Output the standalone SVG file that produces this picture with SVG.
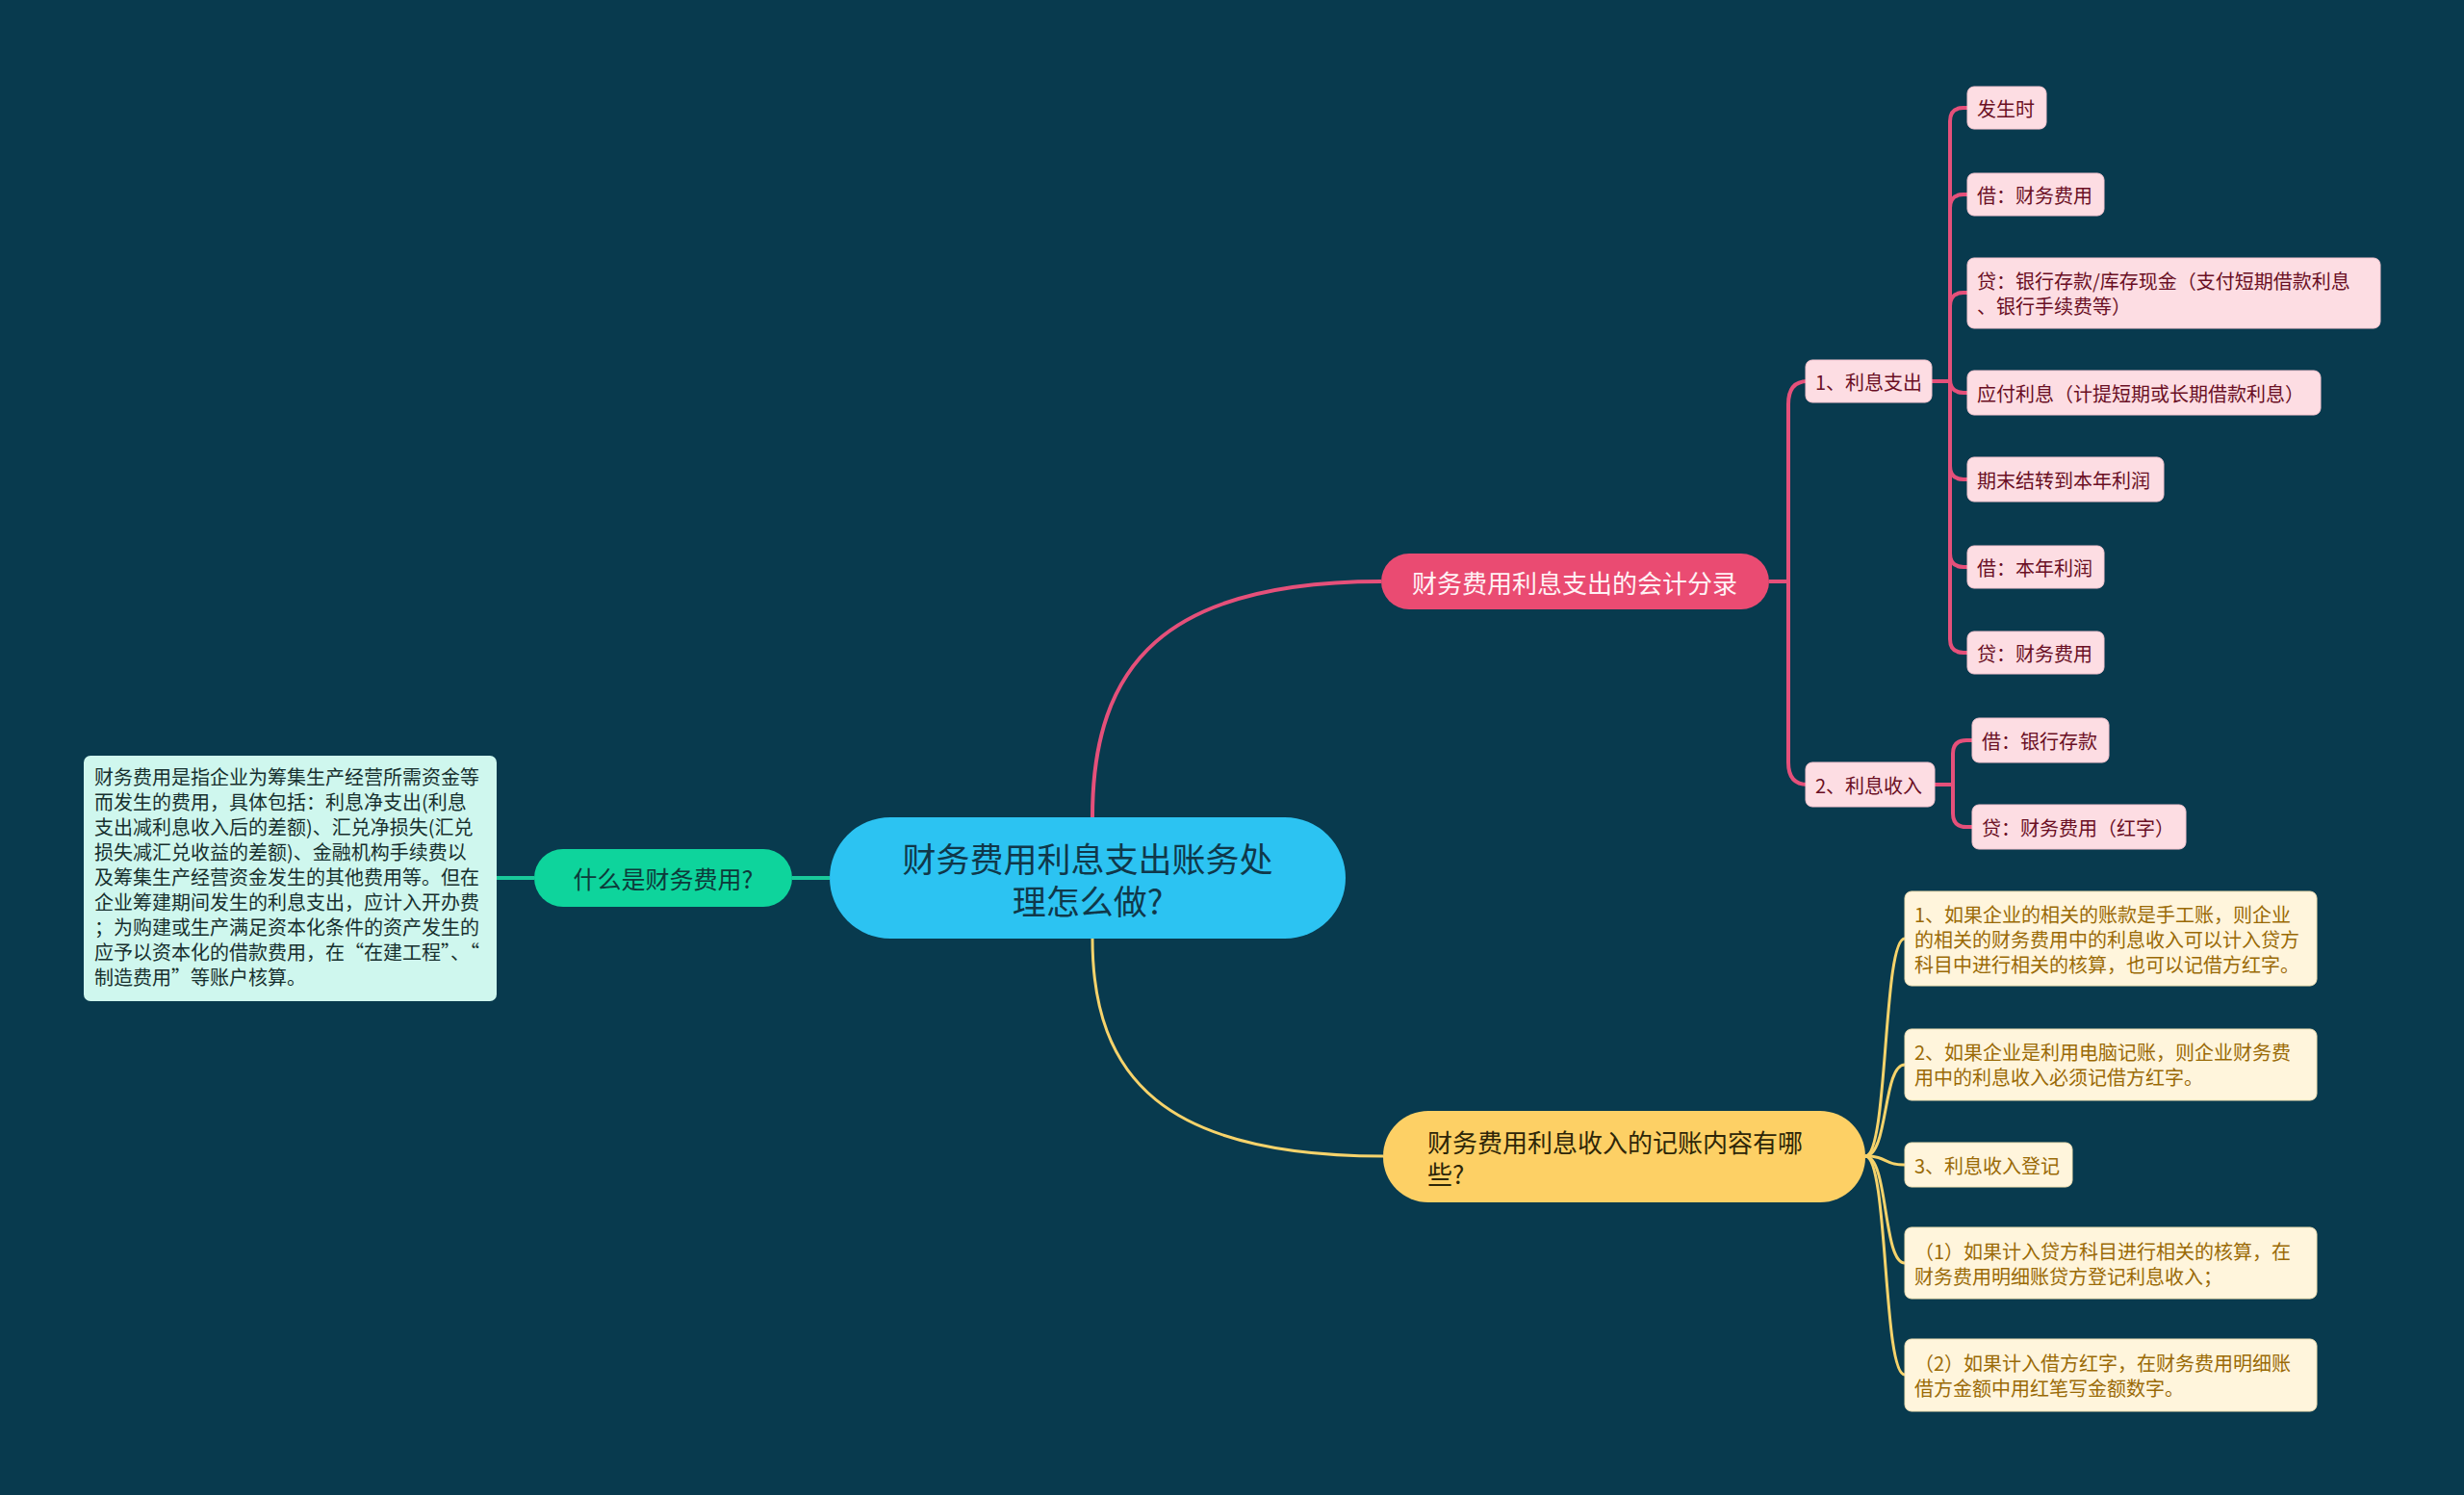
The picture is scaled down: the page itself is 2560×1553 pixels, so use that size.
<svg xmlns="http://www.w3.org/2000/svg" width="2560" height="1553" viewBox="0 0 2560 1553">
<style>
text{font-family:"Noto Sans CJK SC","Noto Sans",sans-serif;dominant-baseline:central}
.pk{fill:#fddde3;stroke:#f7c6d1;stroke-width:1}
.pkt{fill:#6a0f24;font-size:20px}
.yl{fill:#fff5dc;stroke:#f3e2b4;stroke-width:1}
.ylt{fill:#9a6a06;font-size:20px}
.cp{fill:none;stroke:#e5507a;stroke-width:4}
.cy{fill:none;stroke:#f6d36b;stroke-width:3}
.cg{fill:none;stroke:#19c99a;stroke-width:4}
</style>
<rect width="2560" height="1553" fill="#083a4e"/>
<g id="connectors">
<path class="cg" d="M823,912 H862"/>
<path class="cg" d="M516,912 H555"/>
<path class="cp" d="M1135,849 C1135,690 1210,604 1435,604"/>
<path class="cy" d="M1135,975 C1135,1120 1210,1201 1437,1201"/>
<path class="cp" d="M1838,604 H1858 V420 Q1858,396 1878,396"/>
<path class="cp" d="M1858,604 V792 Q1858,815 1878,815"/>
<path class="cp" d="M2007,396 H2026 V126 Q2026,112 2040,112 H2044"/>
<path class="cp" d="M2026,396 V216 Q2026,202 2040,202 H2044"/>
<path class="cp" d="M2026,396 V318 Q2026,304 2040,304 H2044"/>
<path class="cp" d="M2026,396 V394 Q2026,408 2040,408 H2044"/>
<path class="cp" d="M2026,396 V484 Q2026,498 2040,498 H2044"/>
<path class="cp" d="M2026,396 V575 Q2026,589 2040,589 H2044"/>
<path class="cp" d="M2026,396 V664 Q2026,678 2040,678 H2044"/>
<path class="cp" d="M2010,815 H2029 V783 Q2029,769 2043,769 H2049"/>
<path class="cp" d="M2029,815 V845 Q2029,859 2043,859 H2049"/>
<path class="cy" d="M1938,1201 C1962,1201 1956,975 1979,975"/>
<path class="cy" d="M1938,1201 C1962,1201 1956,1106 1979,1106"/>
<path class="cy" d="M1938,1201 C1962,1201 1956,1210 1979,1210"/>
<path class="cy" d="M1938,1201 C1962,1201 1956,1312 1979,1312"/>
<path class="cy" d="M1938,1201 C1962,1201 1956,1428 1979,1428"/>
</g>
<g id="root">
<rect x="862" y="849" width="536" height="126" rx="63" fill="#2cc3f2"/>
<text x="1130" y="890" font-size="35" fill="#10384a" text-anchor="middle">财务费用利息支出账务处</text>
<text x="1130" y="934" font-size="35" fill="#10384a" text-anchor="middle">理怎么做?</text>
</g>
<g id="n-what">
<rect x="555" y="882" width="268" height="60" rx="30" fill="#0ed49c"/>
<text x="689" y="912" font-size="25" fill="#0d3a3a" text-anchor="middle">什么是财务费用?</text>
</g>
<g id="n-what-desc">
<rect x="87" y="785" width="429" height="255" rx="7" fill="#cff7ee"/>
<g font-size="20" fill="#17302e">
<text x="98" y="806" font-size="20">财务费用是指企业为筹集生产经营所需资金等</text>
<text x="98" y="832" font-size="20">而发生的费用，具体包括：利息净支出(利息</text>
<text x="98" y="858" font-size="20">支出减利息收入后的差额)、汇兑净损失(汇兑</text>
<text x="98" y="884" font-size="20">损失减汇兑收益的差额)、金融机构手续费以</text>
<text x="98" y="910" font-size="20">及筹集生产经营资金发生的其他费用等。但在</text>
<text x="98" y="936" font-size="20">企业筹建期间发生的利息支出，应计入开办费</text>
<text x="98" y="962" font-size="20">；为购建或生产满足资本化条件的资产发生的</text>
<text x="98" y="988" font-size="20">应予以资本化的借款费用，在“在建工程”、“</text>
<text x="98" y="1014" font-size="20">制造费用”等账户核算。</text>
</g>
</g>
<g id="n-entry">
<rect x="1435" y="575" width="403" height="58" rx="29" fill="#ea4b72"/>
<text x="1636" y="604" font-size="26" fill="#fff2f5" text-anchor="middle">财务费用利息支出的会计分录</text>
</g>
<g id="n-out">
<rect class="pk" x="1876" y="374" width="131" height="44" rx="7"/>
<text class="pkt" x="1886" y="396">1、利息支出</text>
</g>
<g id="n-in">
<rect class="pk" x="1876" y="792" width="134" height="46" rx="7"/>
<text class="pkt" x="1886" y="815">2、利息收入</text>
</g>
<g id="n-o1"><rect class="pk" x="2044" y="90" width="82" height="44" rx="7"/><text class="pkt" x="2054" y="112">发生时</text></g>
<g id="n-o2"><rect class="pk" x="2044" y="180" width="142" height="44" rx="7"/><text class="pkt" x="2054" y="202">借：财务费用</text></g>
<g id="n-o3"><rect class="pk" x="2044" y="268" width="429" height="73" rx="7"/><text class="pkt" x="2054" y="291">贷：银行存款/库存现金（支付短期借款利息</text><text class="pkt" x="2054" y="317">、银行手续费等）</text></g>
<g id="n-o4"><rect class="pk" x="2044" y="385" width="367" height="46" rx="7"/><text class="pkt" x="2054" y="408">应付利息（计提短期或长期借款利息）</text></g>
<g id="n-o5"><rect class="pk" x="2044" y="475" width="204" height="46" rx="7"/><text class="pkt" x="2054" y="498">期末结转到本年利润</text></g>
<g id="n-o6"><rect class="pk" x="2044" y="567" width="142" height="44" rx="7"/><text class="pkt" x="2054" y="589">借：本年利润</text></g>
<g id="n-o7"><rect class="pk" x="2044" y="656" width="142" height="44" rx="7"/><text class="pkt" x="2054" y="678">贷：财务费用</text></g>
<g id="n-i1"><rect class="pk" x="2049" y="746" width="142" height="46" rx="7"/><text class="pkt" x="2059" y="769">借：银行存款</text></g>
<g id="n-i2"><rect class="pk" x="2049" y="836" width="222" height="46" rx="7"/><text class="pkt" x="2059" y="859">贷：财务费用（红字）</text></g>
<g id="n-income">
<rect x="1437" y="1154" width="501" height="95" rx="47" fill="#fdd065"/>
<text x="1483" y="1185" font-size="26" fill="#2e2608">财务费用利息收入的记账内容有哪</text>
<text x="1483" y="1218" font-size="26" fill="#2e2608">些?</text>
</g>
<g id="n-y1"><rect class="yl" x="1979" y="926" width="428" height="98" rx="7"/>
<text class="ylt" x="1989" y="949">1、如果企业的相关的账款是手工账，则企业</text>
<text class="ylt" x="1989" y="975">的相关的财务费用中的利息收入可以计入贷方</text>
<text class="ylt" x="1989" y="1001">科目中进行相关的核算，也可以记借方红字。</text></g>
<g id="n-y2"><rect class="yl" x="1979" y="1069" width="428" height="74" rx="7"/>
<text class="ylt" x="1989" y="1092">2、如果企业是利用电脑记账，则企业财务费</text>
<text class="ylt" x="1989" y="1118">用中的利息收入必须记借方红字。</text></g>
<g id="n-y3"><rect class="yl" x="1979" y="1187" width="174" height="46" rx="7"/>
<text class="ylt" x="1989" y="1210">3、利息收入登记</text></g>
<g id="n-y4"><rect class="yl" x="1979" y="1275" width="428" height="74" rx="7"/>
<text class="ylt" x="1989" y="1299">（1）如果计入贷方科目进行相关的核算，在</text>
<text class="ylt" x="1989" y="1325">财务费用明细账贷方登记利息收入；</text></g>
<g id="n-y5"><rect class="yl" x="1979" y="1391" width="428" height="75" rx="7"/>
<text class="ylt" x="1989" y="1415">（2）如果计入借方红字，在财务费用明细账</text>
<text class="ylt" x="1989" y="1441">借方金额中用红笔写金额数字。</text></g>
</svg>
